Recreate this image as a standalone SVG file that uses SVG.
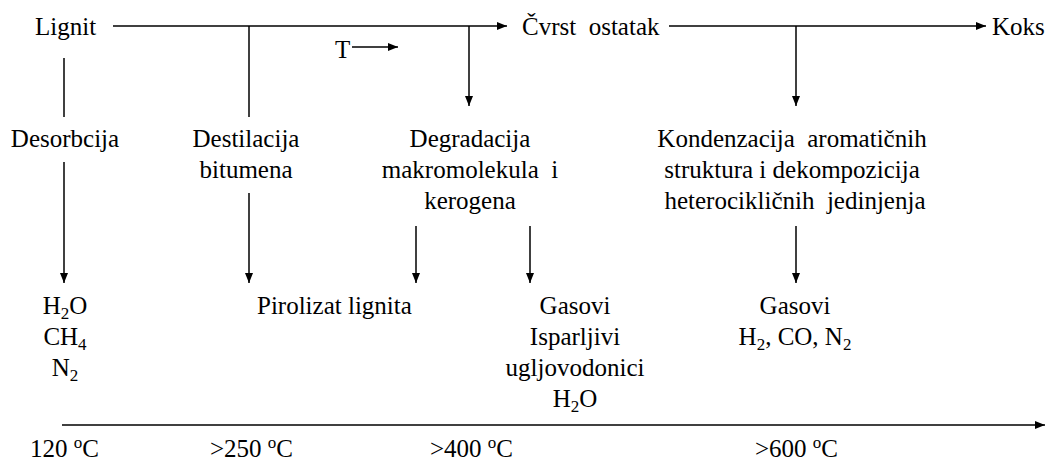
<svg xmlns="http://www.w3.org/2000/svg" width="1047" height="462" viewBox="0 0 1047 462">
<style>
text{font-family:"Liberation Serif","Times New Roman",serif;font-size:25px;fill:#000;white-space:pre}
.c{text-anchor:middle}
.ln{stroke:#000;stroke-width:1.5;fill:none}
.sub{font-size:17px}
</style>
<defs>
<marker id="ah" markerWidth="10" markerHeight="10" refX="10" refY="5" orient="auto" markerUnits="userSpaceOnUse"><path d="M0,1 L10,5 L0,9 Z" fill="#000"/></marker>
</defs>
<rect width="1047" height="462" fill="#fff"/>
<g id="connectors">
<line class="ln" x1="113" y1="26" x2="507" y2="26" marker-end="url(#ah)"/>
<line class="ln" x1="669" y1="26" x2="986" y2="26" marker-end="url(#ah)"/>
<line class="ln" x1="249" y1="26" x2="249" y2="117"/>
<line class="ln" x1="469" y1="26" x2="469" y2="106" marker-end="url(#ah)"/>
<line class="ln" x1="796" y1="26" x2="796" y2="106" marker-end="url(#ah)"/>
<line class="ln" x1="352" y1="47" x2="398" y2="47" marker-end="url(#ah)"/>
<line class="ln" x1="64" y1="58" x2="64" y2="117"/>
<line class="ln" x1="64" y1="162" x2="64" y2="283" marker-end="url(#ah)"/>
<line class="ln" x1="249" y1="193" x2="249" y2="283" marker-end="url(#ah)"/>
<line class="ln" x1="416" y1="226" x2="416" y2="283" marker-end="url(#ah)"/>
<line class="ln" x1="530" y1="226" x2="530" y2="283" marker-end="url(#ah)"/>
<line class="ln" x1="796" y1="226" x2="796" y2="283" marker-end="url(#ah)"/>
<line class="ln" x1="62" y1="425" x2="1045" y2="425" marker-end="url(#ah)"/>
</g>
<g id="lignit"><text x="35" y="35">Lignit</text></g>
<g id="cvrst"><text x="522" y="35">Čvrst  ostatak</text></g>
<g id="koks"><text x="992" y="35">Koks</text></g>
<g id="t"><text x="335" y="58">T</text></g>
<g id="desorbcija"><text class="c" x="65" y="147">Desorbcija</text></g>
<g id="destilacija"><text class="c" x="246" y="147">Destilacija</text><text class="c" x="246" y="178">bitumena</text></g>
<g id="degradacija"><text class="c" x="470" y="147">Degradacija</text><text class="c" x="470" y="178">makromolekula  i</text><text class="c" x="470" y="209">kerogena</text></g>
<g id="kondenzacija"><text class="c" x="792" y="147">Kondenzacija  aromatičnih</text><text class="c" x="792" y="178">struktura i dekompozicija</text><text class="c" x="795" y="209">heterocikličnih  jedinjenja</text></g>
<g id="gas1"><text class="c" x="65" y="314">H<tspan class="sub" dy="5">2</tspan><tspan dy="-5">O</tspan></text><text class="c" x="65" y="345">CH<tspan class="sub" dy="5">4</tspan></text><text class="c" x="65" y="376">N<tspan class="sub" dy="5">2</tspan></text></g>
<g id="pirolizat"><text x="257" y="314">Pirolizat lignita</text></g>
<g id="gas2"><text class="c" x="575" y="314">Gasovi</text><text class="c" x="575" y="345">Isparljivi</text><text class="c" x="575" y="376">ugljovodonici</text><text class="c" x="575" y="407">H<tspan class="sub" dy="5">2</tspan><tspan dy="-5">O</tspan></text></g>
<g id="gas3"><text class="c" x="795" y="314">Gasovi</text><text class="c" x="795" y="345">H<tspan class="sub" dy="5">2</tspan><tspan dy="-5">, CO, N</tspan><tspan class="sub" dy="5">2</tspan></text></g>
<g id="temps">
<text x="30" y="457">120 <tspan class="sub" dy="-9">o</tspan><tspan dy="9">C</tspan></text>
<text x="210" y="457">&gt;250 <tspan class="sub" dy="-9">o</tspan><tspan dy="9">C</tspan></text>
<text x="430" y="457">&gt;400 <tspan class="sub" dy="-9">o</tspan><tspan dy="9">C</tspan></text>
<text x="755" y="457">&gt;600 <tspan class="sub" dy="-9">o</tspan><tspan dy="9">C</tspan></text>
</g>
</svg>
